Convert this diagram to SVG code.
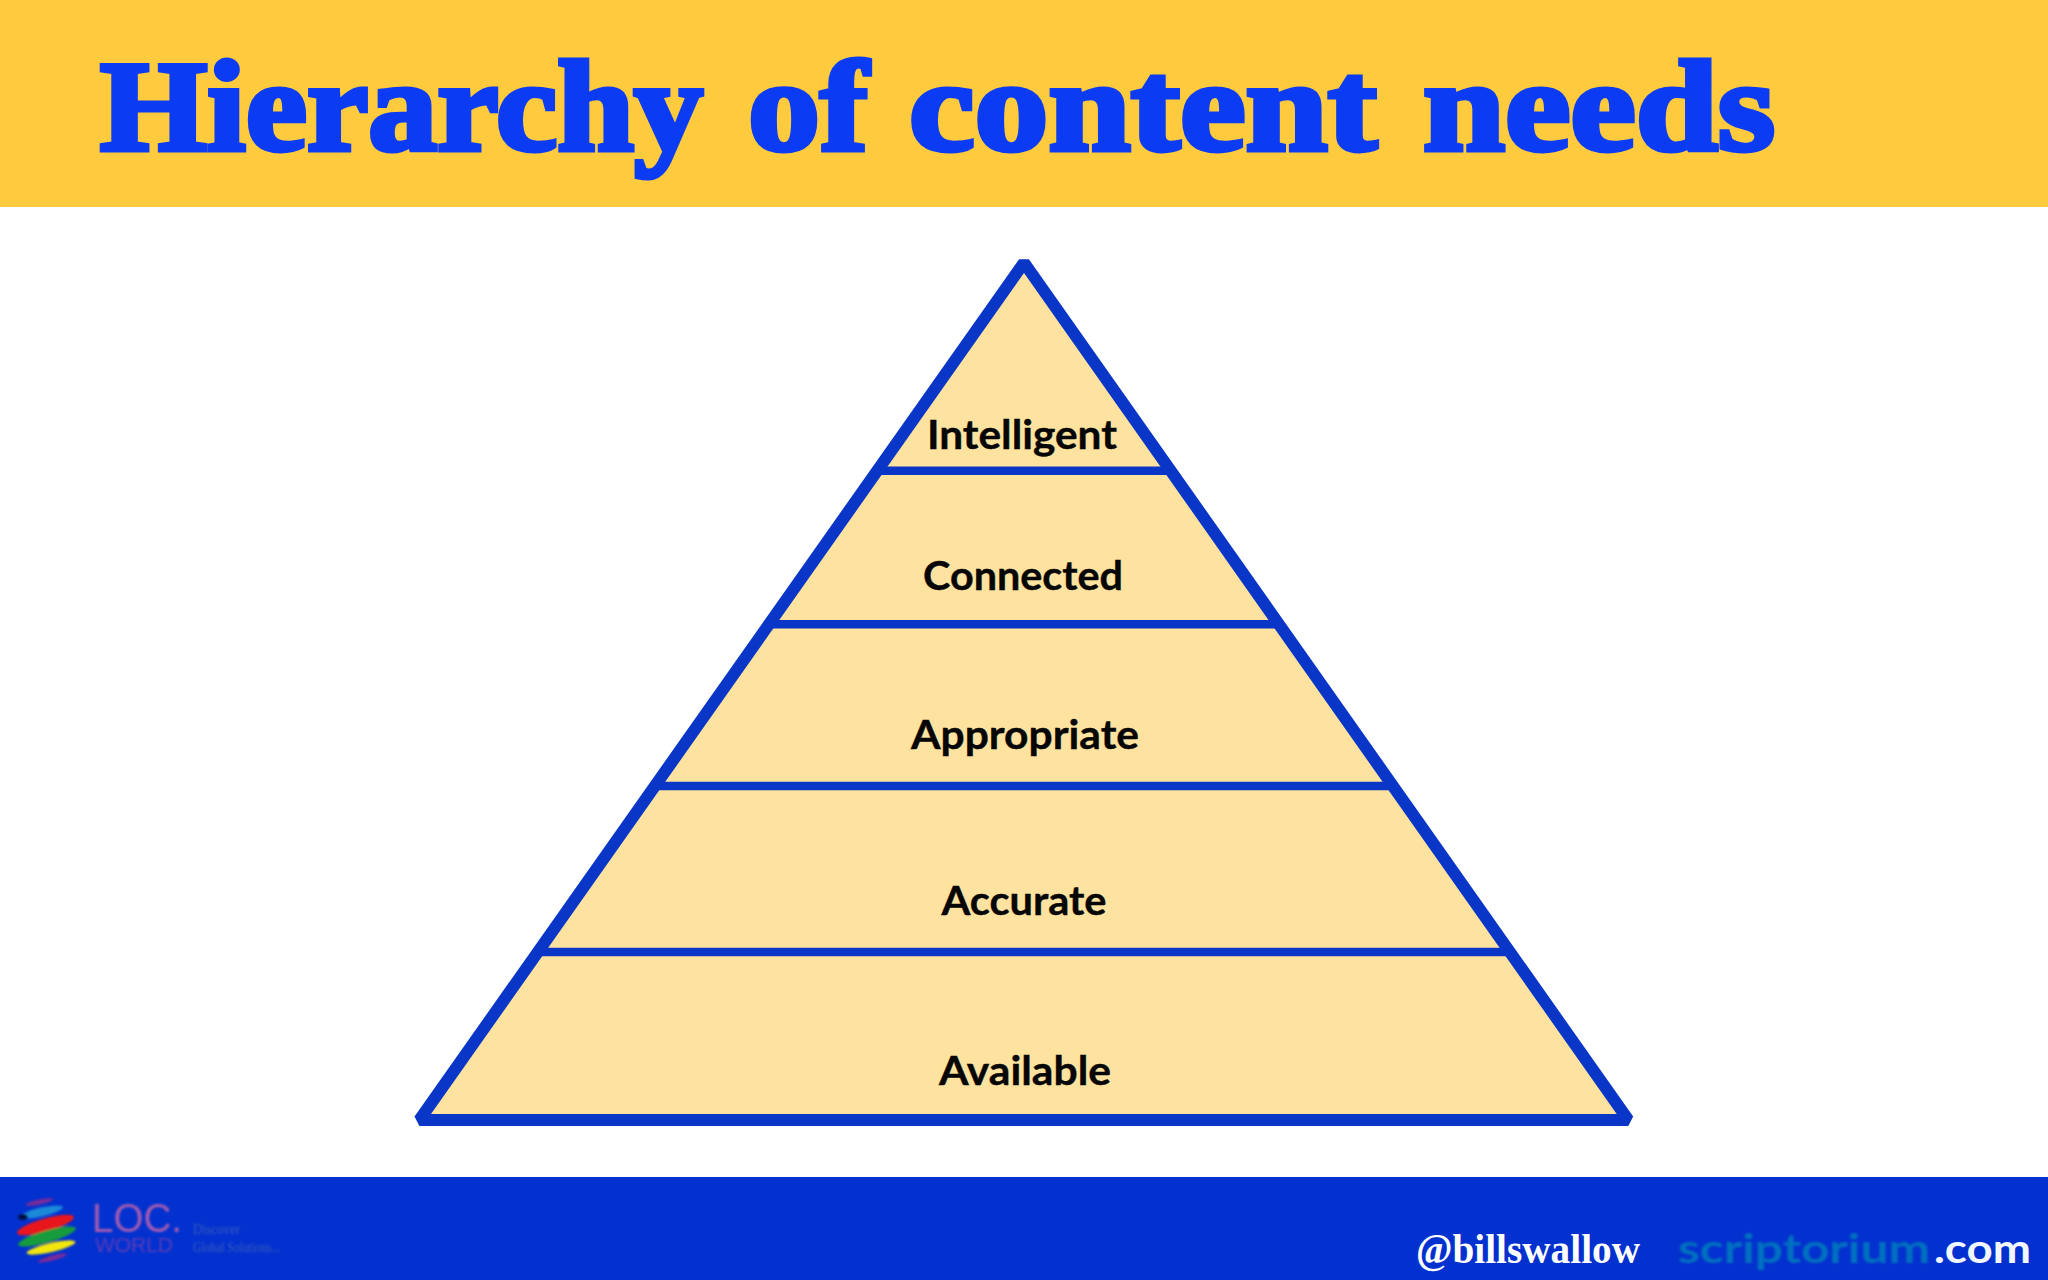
<svg xmlns="http://www.w3.org/2000/svg" width="2048" height="1280" viewBox="0 0 2048 1280">
<defs>
<style>
.lbl{font-family:"Lato","Liberation Sans",sans-serif;font-weight:700;font-size:40px;fill:#060606;stroke:#060606;stroke-width:0.4}
.edge{stroke:#0a36c8;stroke-width:12;fill:none;stroke-linejoin:bevel}
.div{stroke:#0a36c8;stroke-width:8.6;fill:none}
.band{fill:#fee29f}
</style>
<filter id="b1" x="-10%" y="-30%" width="120%" height="160%"><feGaussianBlur stdDeviation="1.3"/></filter>
<filter id="b2" x="-10%" y="-30%" width="120%" height="160%"><feGaussianBlur stdDeviation="0.8"/></filter>
</defs>
<rect width="2048" height="1280" fill="#ffffff"/>
<g id="header">
<rect width="2048" height="207" fill="#fecb3e"/>
<text y="150" font-family="Liberation Serif,serif" font-weight="700" font-size="130" fill="#0b3bf2" stroke="#0b3bf2" stroke-width="5"><tspan x="100" textLength="603" lengthAdjust="spacingAndGlyphs">Hierarchy</tspan> <tspan x="748" textLength="120" lengthAdjust="spacingAndGlyphs">of</tspan> <tspan x="909" textLength="468" lengthAdjust="spacingAndGlyphs">content</tspan> <tspan x="1423" textLength="352" lengthAdjust="spacingAndGlyphs">needs</tspan></text>
</g>
<g id="pyramid-fill">
<polygon class="band" points="1024,262.6 1628.3,1120 419.4,1120"/>
</g>
<g id="connectors">
<polygon class="edge" points="1024,262.6 1628.3,1120 419.4,1120"/>
<line class="div" x1="877" y1="470.7" x2="1171" y2="470.7"/>
<line class="div" x1="769" y1="624.2" x2="1279" y2="624.2"/>
<line class="div" x1="655" y1="786" x2="1393" y2="786"/>
<line class="div" x1="538" y1="952" x2="1510" y2="952"/>
</g>
<g id="node-intelligent"><text class="lbl" x="1022" y="449" text-anchor="middle" textLength="190" lengthAdjust="spacingAndGlyphs">Intelligent</text></g>
<g id="node-connected"><text class="lbl" x="1023" y="589.5" text-anchor="middle" textLength="200" lengthAdjust="spacingAndGlyphs">Connected</text></g>
<g id="node-appropriate"><text class="lbl" x="1025" y="748.5" text-anchor="middle" textLength="228" lengthAdjust="spacingAndGlyphs">Appropriate</text></g>
<g id="node-accurate"><text class="lbl" x="1024" y="915" text-anchor="middle" textLength="165" lengthAdjust="spacingAndGlyphs">Accurate</text></g>
<g id="node-available"><text class="lbl" x="1025" y="1085" text-anchor="middle" textLength="172" lengthAdjust="spacingAndGlyphs">Available</text></g>
<g id="footer">
<rect y="1177" width="2048" height="103" fill="#0331cf"/>
<g id="logo" filter="url(#b2)">
<ellipse cx="39.5" cy="1202" rx="14" ry="2.5" fill="#7a2c98" transform="rotate(-12 39.5 1202)"/>
<ellipse cx="41.5" cy="1212" rx="22" ry="4.5" fill="#1e88d8" transform="rotate(-13 41.5 1212)"/>
<ellipse cx="23" cy="1217" rx="5" ry="3" fill="#061040"/>
<ellipse cx="45.5" cy="1225" rx="29.5" ry="6.5" fill="#e8141e" transform="rotate(-16 45.5 1225)"/>
<ellipse cx="47" cy="1236.5" rx="30" ry="6" fill="#149c3c" transform="rotate(-16 47 1236.5)"/>
<ellipse cx="51" cy="1247.5" rx="25" ry="4.5" fill="#f2e610" transform="rotate(-13 51 1247.5)"/>
<ellipse cx="52.5" cy="1258" rx="15" ry="2.5" fill="#7a2c98" transform="rotate(-15 52.5 1258)"/>
<text x="92" y="1232" font-family="Liberation Sans,sans-serif" font-size="41" fill="#a45cb0" textLength="90" lengthAdjust="spacingAndGlyphs">LOC.</text>
<text x="95" y="1252" font-family="Liberation Sans,sans-serif" font-size="19.5" fill="#5a3cb8" textLength="78" lengthAdjust="spacingAndGlyphs">WORLD</text>
<text x="193" y="1234" font-family="Liberation Serif,serif" font-size="14" fill="#3a5cbc" textLength="47" lengthAdjust="spacingAndGlyphs">Discover</text>
<text x="193" y="1252" font-family="Liberation Serif,serif" font-size="14" fill="#3a5cbc" textLength="87" lengthAdjust="spacingAndGlyphs">Global Solutions...</text>
</g>
<text x="1416" y="1263" font-family="Liberation Serif,serif" font-weight="700" font-size="43" fill="#ffffff" textLength="224" lengthAdjust="spacingAndGlyphs">@billswallow</text>
<text y="1263" font-family="Lato,sans-serif" font-weight="700" font-size="41"><tspan x="1678" fill="#0070c0" filter="url(#b1)" textLength="252" lengthAdjust="spacingAndGlyphs">scriptorium</tspan><tspan x="1934" fill="#f2f6ff" textLength="97" lengthAdjust="spacingAndGlyphs">.com</tspan></text>
</g>
</svg>
